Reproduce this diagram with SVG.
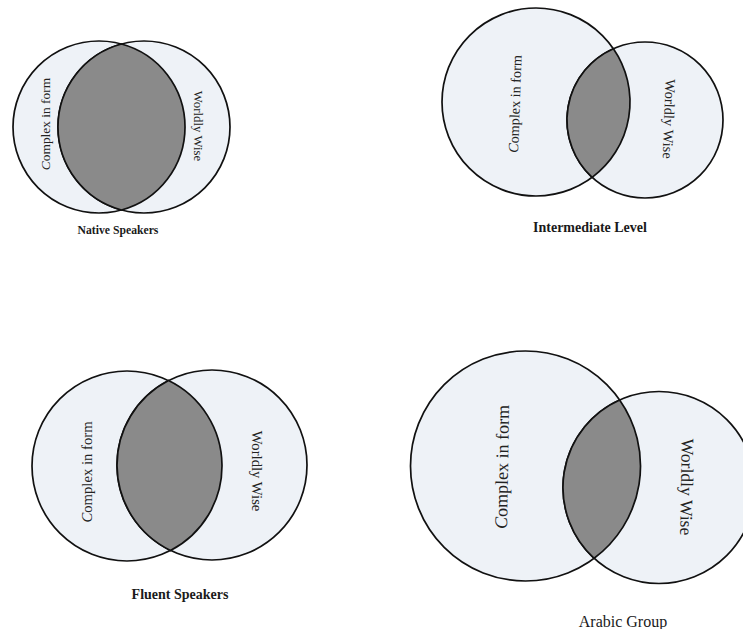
<svg xmlns="http://www.w3.org/2000/svg" width="743" height="629" viewBox="0 0 743 629">
<style>
  .set { fill: #eef2f7; stroke: #111; stroke-width: 1.7; }
  .lens { fill: #8a8a8a; stroke: #111; stroke-width: 1.7; }
  .lbl { font-family: "Liberation Serif", "Times New Roman", serif; fill: #222; text-anchor: middle; }
  .cap { font-family: "Liberation Serif", "Times New Roman", serif; fill: #1a1a1a; text-anchor: middle; }
  .it { font-style: italic; }
</style>
<rect width="743" height="629" fill="#ffffff"/>

<g id="native-speakers">
  <circle class="set" cx="99" cy="127" r="86"/>
  <circle class="set" cx="144" cy="127" r="86"/>
  <path class="lens" d="M121.5,43.99 A86,86 0 0,0 121.5,210.01 A86,86 0 0,0 121.5,43.99 Z"/>
  <text class="lbl" font-size="13.4" transform="translate(45,124) rotate(-90)" y="4.5"><tspan class="it">C</tspan>omplex in form</text>
  <text class="lbl" font-size="12.8" transform="translate(198,126) rotate(90)" y="4.5">Worldly Wise</text>
  <text class="cap" font-size="11.7" font-weight="bold" x="118" y="234">Native Speakers</text>
</g>

<g id="intermediate-level">
  <circle class="set" cx="536" cy="102" r="94"/>
  <circle class="set" cx="645" cy="120" r="78"/>
  <path class="lens" d="M613.42,48.68 A78,78 0 0,0 592.16,177.38 A94,94 0 0,0 613.42,48.68 Z"/>
  <text class="lbl" font-size="14.2" transform="translate(515,104) rotate(-88)" y="4.8"><tspan class="it">C</tspan>omplex in form</text>
  <text class="lbl" font-size="14.5" transform="translate(669,119) rotate(92)" y="4.8">Worldly Wise</text>
  <text class="cap" font-size="14" font-weight="bold" x="590" y="232">Intermediate Level</text>
</g>

<g id="fluent-speakers">
  <circle class="set" cx="127" cy="466" r="95"/>
  <circle class="set" cx="212" cy="465" r="95"/>
  <path class="lens" d="M168.5,380.55 A95,95 0 0,0 170.5,550.45 A95,95 0 0,0 168.5,380.55 Z"/>
  <text class="lbl" font-size="14.7" transform="translate(87,472) rotate(-90)" y="5"><tspan class="it">C</tspan>omplex in form</text>
  <text class="lbl" font-size="14.7" transform="translate(257,471) rotate(90)" y="5">Worldly Wise</text>
  <text class="cap" font-size="14" font-weight="bold" x="180" y="599">Fluent Speakers</text>
</g>

<g id="arabic-group">
  <circle class="set" cx="525.5" cy="466" r="115"/>
  <circle class="set" cx="659" cy="487.5" r="96"/>
  <path class="lens" d="M619.63,399.94 A96,96 0 0,0 594.13,558.28 A115,115 0 0,0 619.63,399.94 Z"/>
  <text class="lbl" font-size="18" transform="translate(502,467) rotate(-89)" y="6"><tspan class="it">C</tspan>omplex in form</text>
  <text class="lbl" font-size="17.6" transform="translate(687,487) rotate(91)" y="6">Worldly Wise</text>
  <text class="cap" font-size="16" x="623" y="627">Arabic Group</text>
</g>
</svg>
